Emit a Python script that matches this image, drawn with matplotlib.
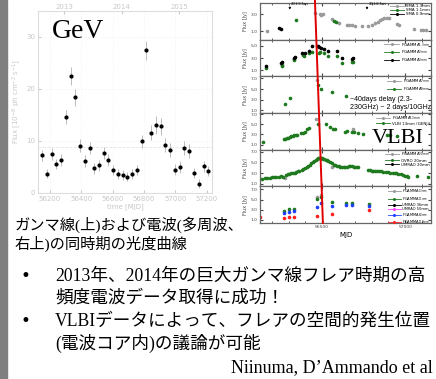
import matplotlib.pyplot as plt
from matplotlib.lines import Line2D
from matplotlib.patches import ConnectionPatch

W, H = 436, 379

## Gamma-ray (GeV) light curve ##
gev_mjd = [56151, 56181, 56211, 56240, 56272, 56302, 56332, 56362, 56391, 56423,
           56453, 56483, 56513, 56543, 56572, 56604, 56634, 56664, 56694, 56726,
           56755, 56785, 56815, 56847, 56877, 56906, 56936, 56966, 56998, 57028,
           57057, 57087, 57119, 57149, 57179, 57209]
gev_flux = [7.2, 3.7, 7.5, 5.6, 6.3, 14.6, 22.5, 18.4, 9.1, 6.1,
            8.6, 4.7, 5.3, 7.7, 6.3, 4.4, 3.6, 3.5, 3.1, 3.6,
            4.4, 9.9, 27.4, 11.6, 13.1, 12.8, 9.2, 8.3, 4.5, 5.0,
            8.6, 8.1, 3.8, 1.8, 5.1, 4.2]
gev_err = [1.1, 0.9, 1.1, 1.0, 1.1, 1.3, 1.7, 1.6, 1.3, 1.1,
           1.2, 1.0, 1.1, 1.1, 1.1, 1.0, 1.0, 1.0, 0.9, 1.0,
           1.0, 1.3, 1.8, 1.4, 1.7, 1.6, 1.3, 1.3, 1.0, 1.1,
           1.3, 1.4, 1.0, 0.8, 1.0, 0.9]
year_mjd = [56293, 56658, 57023]
year_lbl = ["2013", "2014", "2015"]

## Radio light curves (one list pair per instrument) ##
sma13_mjd = [56167, 56458, 56490, 56497, 56505, 56558, 56602, 56650, 56665, 56680,
             56700, 56740, 56780, 56800, 56820, 56835, 56850, 56862, 56872, 56890,
             56905, 56950, 56965, 57055, 57095, 57110, 57125]
sma13_flux = [1.04, 3.15, 3.05, 2.9, 3.0, 2.37, 1.9, 1.7, 1.72, 1.68,
              1.65, 1.6, 1.65, 1.72, 1.9, 2.1, 2.3, 2.45, 2.55, 2.6,
              2.5, 1.85, 1.75, 1.3, 1.15, 1.1, 1.15]
sma11_mjd = [56342, 56572, 56584]
sma11_flux = [2.3, 2.2, 2.1]
sma09_mjd = [56241, 56257]
sma09_flux = [1.39, 1.24]

fg1_mjd = [56468]
fg1_flux = [4.95]
fg2_mjd = [56161, 56258, 56262, 56331, 56335, 56385, 56395, 56420, 56440, 56480,
           56490, 56512, 56535, 56590, 56620, 56678, 56688]
fg2_flux = [1.37, 1.75, 1.85, 2.7, 2.8, 3.5, 3.3, 3.9, 4.0, 3.9,
            3.95, 3.9, 3.3, 3.3, 2.2, 2.3, 2.3]
fg3_mjd = [56161, 56256, 56262, 56331, 56337, 56380, 56400, 56420, 56440, 56475,
           56485, 56495, 56512, 56535, 56590, 56620, 56678, 56688]
fg3_flux = [1.63, 2.15, 2.35, 3.0, 3.1, 3.8, 3.8, 4.2, 4.9, 4.9,
            4.85, 4.7, 4.45, 4.1, 4.2, 2.95, 2.9, 2.95]

fg7_mjd = [56470]
fg7_flux = [6.8]
fg9_mjd = [56277, 56307, 56474, 56494, 56558, 56645]
fg9_flux = [2.2, 3.3, 5.8, 5.1, 4.5, 3.7]

fg13_mjd = [56466, 56685]
fg13_flux = [6.0, 4.0]
vlbi_mjd = [56146, 56272, 56280, 56288, 56298, 56307, 56315, 56325, 56333, 56342,
            56352, 56372, 56385, 56398, 56412, 56420, 56476, 56522, 56550, 56565,
            56580, 56640, 56650, 56680, 56695, 56718, 56745, 56892, 56910, 56952]
vlbi_flux = [1.55, 2.0, 2.1, 2.2, 2.3, 2.5, 2.6, 2.7, 2.8, 2.8,
             2.9, 3.2, 3.3, 3.5, 4.0, 4.3, 5.1, 5.1, 4.4, 4.1,
             4.0, 3.4, 3.6, 3.5, 3.5, 3.2, 3.1, 2.9, 2.9, 2.7]

fg20_mjd = [56277, 56558]
fg20_flux = [2.0, 4.1]
ovro_mjd = [56127, 56140, 56155, 56170, 56185, 56197, 56210, 56225, 56240, 56257,
            56265, 56285, 56295, 56305, 56315, 56325, 56337, 56345, 56355, 56365,
            56378, 56388, 56398, 56408, 56418, 56428, 56437, 56446, 56455, 56462,
            56468, 56475, 56482, 56488, 56495, 56502, 56508, 56515, 56522, 56528,
            56538, 56548, 56558, 56570, 56580, 56590, 56600, 56610, 56618, 56630,
            56640, 56648, 56660, 56670, 56678, 56690, 56700, 56710, 56718, 56778,
            56790, 56800, 56810, 56818, 56830, 56845, 56858, 56870, 56885, 56898,
            56910, 56925, 56938, 56948, 56960, 56975, 56988, 57000, 57010, 57018,
            57070, 57140]
ovro_flux = [1.9, 1.95, 2.0, 2.05, 2.1, 2.2, 2.2, 2.25, 2.3, 2.4,
             2.35, 2.7, 2.8, 2.9, 3.0, 3.05, 3.1, 3.2, 3.3, 3.4,
             3.6, 3.8, 4.0, 4.2, 4.4, 4.6, 4.8, 5.05, 5.3, 5.5,
             5.7, 5.8, 5.9, 5.9, 5.85, 5.8, 5.7, 5.6, 5.5, 5.4,
             5.2, 5.0, 4.85, 4.6, 4.5, 4.4, 4.3, 4.2, 4.1, 4.15,
             4.2, 4.2, 4.3, 4.25, 4.3, 4.2, 4.15, 4.1, 4.1, 3.6,
             3.5, 3.45, 3.35, 3.3, 3.3, 3.35, 3.3, 3.25, 3.2, 3.2,
             3.1, 3.05, 3.0, 2.95, 2.85, 2.8, 2.7, 2.5, 2.4, 2.3,
             2.4, 2.3]

fg13b_mjd = [56472, 56492]
fg13b_flux = [5.5, 5.9]
fg11_mjd = [56273, 56303, 56331, 56472, 56492, 56558, 56643, 56683, 56783]
fg11_flux = [2.75, 3.1, 3.2, 5.2, 5.6, 4.55, 4.35, 4.4, 4.1]
fg60_mjd = [56273, 56303, 56331, 56472, 56492, 56558, 56643, 56683, 56783]
fg60_flux = [2.3, 2.6, 2.7, 3.45, 4.35, 3.7, 3.85, 3.85, 3.7]
fg110_mjd = [56127, 56273, 56303, 56331, 56472, 56558, 56783]
fg110_flux = [1.65, 1.35, 1.65, 1.65, 1.8, 2.1, 2.95]

arrow_mjd = [56307, 56771]
arrow_lbl = ["2013/Jan", "2014/Jan"]
red_line_mjd = (56458, 56506)

GRAY, GREEN, BLACK = "#9a9a9a", "#1f7a1f", "#000000"
BLUE, RED, MAG = "#2040ff", "#ff2020", "#ff40ff"
LIGHT = "#c8c8c8"


def px(x, y):
    return x / W, 1 - y / H


fig = plt.figure(figsize=(W / 100, H / 100), dpi=100)

# grey slide border on the left
fig.patches.append(plt.Rectangle((0, 0), 7 / W, 1, transform=fig.transFigure,
                                 color="#7f7f7f", zorder=0))

## GeV panel ##
axg = fig.add_axes([0.087, 0.491, 0.399, 0.480])
axg.errorbar(gev_mjd, gev_flux, yerr=gev_err, fmt="o", ms=2, color="black",
             ecolor="#b0b0b0", elinewidth=0.6, capsize=0)
axg.set_xlim(56124, 57232)
axg.set_ylim(0, 35)
axg.set_xticks(range(56200, 57201, 200))
axg.set_yticks([0, 10, 20, 30])
axg.axhline(8.8, ls="--", color="#e4e4e4", lw=0.6, zorder=0)
axg.grid(True, ls=":", color="#eeeeee", lw=0.5)
axg.tick_params(labelsize=5, colors=LIGHT, direction="in", length=2, pad=2)
for s in axg.spines.values():
    s.set_color("#dddddd")
axg.set_xlabel("time [MJD]", fontsize=5, color=LIGHT, labelpad=1)
axg.set_ylabel("Flux [10$^{-8}$ ph cm$^{-2}$ s$^{-1}$]", fontsize=5, color=LIGHT, labelpad=2)
axt = axg.twiny()
axt.set_xlim(axg.get_xlim())
axt.set_xticks(year_mjd)
axt.set_xticklabels(year_lbl)
axt.tick_params(labelsize=5, colors=LIGHT, direction="in", length=2, pad=1)
for s in axt.spines.values():
    s.set_visible(False)
axg.text(56213, 31, "GeV", ha="left", va="center", fontsize=20, family="Liberation Serif")

## radio panels ##
gs = fig.add_gridspec(6, 1, left=0.596, right=0.989, bottom=0.4116, top=0.992, hspace=0)
axes = [fig.add_subplot(gs[i]) for i in range(6)]
ylims = [(0, 4.3), (0, 6), (0.5, 7.4), (0, 7.2), (0.5, 7.4), (0.4, 7.6)]
yticks = [[1, 3], [1, 3, 5], [1, 3, 5, 7], [1, 3, 5, 7], [1, 3, 5, 7], [1, 3, 5, 7]]

panels = [
    [(sma13_mjd, sma13_flux, GRAY, "SMA 1.3mm"), (sma11_mjd, sma11_flux, GREEN, "SMA 1.1mm"),
     (sma09_mjd, sma09_flux, BLACK, "SMA 0.9mm")],
    [(fg1_mjd, fg1_flux, GRAY, "FGAMMA$_{1.3mm}$"), (fg2_mjd, fg2_flux, GREEN, "FGAMMA$_{2mm}$"),
     (fg3_mjd, fg3_flux, BLACK, "FGAMMA$_{3mm}$")],
    [(fg7_mjd, fg7_flux, GRAY, "FGAMMA$_{7mm}$"), (fg9_mjd, fg9_flux, GREEN, "FGAMMA$_{9mm}$")],
    [(fg13_mjd, fg13_flux, GRAY, "FGAMMA$_{13mm}$"), (vlbi_mjd, vlbi_flux, GREEN, "VLBI 13mm (GENJI)")],
    [(fg20_mjd, fg20_flux, GRAY, "FGAMMA$_{20mm}$"), (ovro_mjd, ovro_flux, GREEN, "OVRO 20mm"),
     ([], [], BLACK, "UMRAO 20mm")],
    [(fg13b_mjd, fg13b_flux, GRAY, "FGAMMA$_{13mm}$"), (fg11_mjd, fg11_flux, GREEN, "FGAMMA$_{11mm}$"),
     ([], [], BLACK, "UMRAO 36mm"), ([], [], MAG, "UMRAO 50mm"),
     (fg60_mjd, fg60_flux, BLUE, "FGAMMA$_{60mm}$"), (fg110_mjd, fg110_flux, RED, "FGAMMA$_{110mm}$")],
]

for i, ax in enumerate(axes):
    handles = []
    for mjd, flux, col, lbl in panels[i]:
        if mjd:
            ax.errorbar(mjd, flux, yerr=0.12, fmt="o", ms=1.6, color=col,
                        elinewidth=0.5, capsize=0)
        handles.append(Line2D([0], [0], color=col, marker="o", ms=1.2, lw=0.6, label=lbl))
    ax.legend(handles=handles, loc="upper right", frameon=False,
              fontsize=2.6 if len(handles) > 3 else 2.9,
              handlelength=3.5, labelspacing=0.02, borderaxespad=0.15, handletextpad=0.5,
              borderpad=0.15)
    ax.set_xlim(56127, 57157)
    ax.set_ylim(*ylims[i])
    ax.set_yticks(yticks[i])
    ax.set_yticklabels([f"{t:.1f}" for t in yticks[i]])
    ax.set_xticks([56500, 57000])
    ax.set_xticks(range(56200, 57157, 100), minor=True)
    ax.tick_params(which="both", direction="in", top=True, right=True, labelsize=3.2,
                   length=2, pad=1.5, colors="#444444")
    ax.tick_params(which="minor", length=1.2)
    ax.set_ylabel("Flux [Jy]", fontsize=3.5, labelpad=2, color="#444444")
    for s in ax.spines.values():
        s.set_color("#666666")
        s.set_linewidth(0.9)
    if i < 5:
        ax.tick_params(labelbottom=False)

axes[5].set_xlabel("MJD", fontsize=5, labelpad=2)

# arrows marking the new years in the top panel
for m, lbl in zip(arrow_mjd, arrow_lbl):
    axes[0].annotate("", xy=(m, 3.2), xytext=(m, 4.15),
                     arrowprops=dict(arrowstyle="-|>", lw=0.5, color="black", mutation_scale=3))
    axes[0].text(m + 8, 4.15, lbl, fontsize=3.5, va="center", family="Liberation Serif")

axes[2].text(56668, 3.1, "~40days delay (2.3-", fontsize=5, va="center", family="Liberation Sans")
axes[2].text(56668, 1.5, "230GHz) ~ 2 days/10GHz", fontsize=5, va="center", family="Liberation Sans")
axes[3].text(56958, 2.1, "VLBI", fontsize=16, ha="center", va="center", family="Liberation Serif")

# red delay line across all radio panels
red = ConnectionPatch(xyA=(red_line_mjd[0], 4.65), coordsA=axes[0].transData,
                      xyB=(red_line_mjd[1], 0.4), coordsB=axes[5].transData,
                      color="#e00000", lw=1.4, zorder=10)
fig.add_artist(red)

## slide text ##
jp = ["Liberation Serif", "Noto Sans CJK JP"]
fig.text(*px(15, 225), "ガンマ線(上)および電波(多周波、", fontsize=11, va="center", family=jp)
fig.text(*px(15, 244), "右上)の同時期の光度曲線", fontsize=11, va="center", family=jp)

bullets = [
    ["2013年、2014年の巨大ガンマ線フレア時期の高", "頻度電波データ取得に成功！"],
    ["VLBIデータによって、フレアの空間的発生位置", "(電波コア内)の議論が可能"],
]
ys = [276, 321]
for y0, lines in zip(ys, bullets):
    fig.text(*px(20, y0), "•", fontsize=12, va="center", family="DejaVu Sans")
    for k, t in enumerate(lines):
        fig.text(*px(55, y0 + 22 * k), t, fontsize=12.7, va="center", family=jp)

fig.text(*px(433, 368), "Niinuma, D\u2019Ammando et al", fontsize=13, ha="right", va="center",
         family="Liberation Serif")

fig.savefig("out.png", dpi=100)
